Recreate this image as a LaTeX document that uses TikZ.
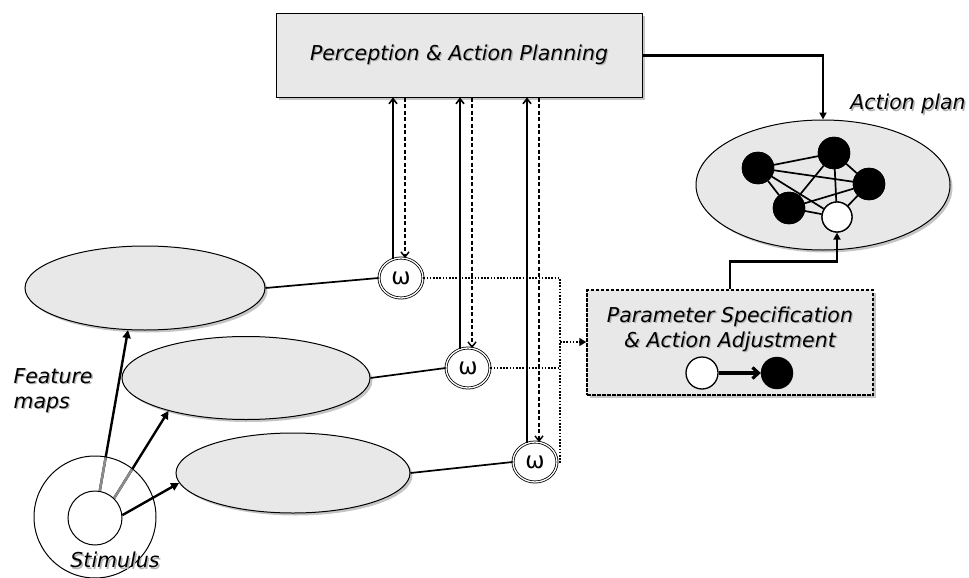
\documentclass[tikz,border=0pt]{standalone}
\usepackage{fontspec}
\setmainfont{DejaVu Sans}
\usetikzlibrary{shapes.geometric,shadows,arrows.meta,calc}
\definecolor{boxgray}{HTML}{E8E8E8}
\newcommand\shtx[1]{\makebox[0pt][l]{\hspace{1.4pt}\raisebox{-1.4pt}{\textcolor{black!30}{#1}}}#1}
\tikzset{
  shad/.style={drop shadow={shadow xshift=2.5pt,shadow yshift=-2.5pt,fill=black!45}},
  graybox/.style={draw=black, line width=1pt, fill=boxgray, shad},
  fmap/.style={ellipse, graybox, inner sep=0pt},
  omeganode/.style={ellipse, draw=black, double=white, double distance=1.3pt, line width=0.8pt,
    fill=white, minimum width=44, minimum height=40, inner sep=0pt,
    font=\fontsize{23}{23}\selectfont},
  lbl/.style={font=\itshape\fontsize{20.5}{25}\selectfont},
  blackdot/.style={circle, fill=black, draw=black, minimum size=32, inner sep=0pt},
  whitedot/.style={circle, fill=white, draw=black, line width=1.3pt, minimum size=30, inner sep=0pt},
  stimarr/.style={line width=2.4pt, -{Triangle[length=8pt,width=8pt]}},
  solidup/.style={line width=1.6pt, -{Straight Barb[length=5pt,width=8pt]}},
  dashdown/.style={line width=1.5pt, dashed, dash pattern=on 4pt off 2.5pt, -{Straight Barb[length=5pt,width=8pt]}},
  dotline/.style={line width=1.6pt, dash pattern=on 1.6pt off 1.6pt},
  planarr/.style={line width=2.5pt, -{Triangle[length=7pt,width=7pt]}},
  graphedge/.style={line width=1.7pt}
}
\begin{document}
\begin{tikzpicture}[x=1pt,y=-1pt]
\useasboundingbox (0,0) rectangle (969,578);

% top box
\node[graybox, rectangle, minimum width=366, minimum height=83, inner sep=0pt, lbl] (pap) at (459,55.5) {\shtx{Perception \& Action Planning}};

% action plan
\node[ellipse, graybox, minimum width=254, minimum height=130, inner sep=0pt] (ap) at (823,185) {};
\node[lbl] (apt) at (908,105) {\shtx{Action plan}};
\node[blackdot] (a1) at (758,168) {};
\node[blackdot] (a2) at (834,153) {};
\node[blackdot] (a3) at (869,184) {};
\node[blackdot] (a4) at (789,208) {};
\node[whitedot] (aw) at (837,217) {};
\foreach \u/\v in {a1/a2,a1/a4,a1/a3,a1/aw,a2/a4,a2/a3,a2/aw,a3/a4,a3/aw,a4/aw}
  \draw[graphedge] (\u) -- (\v);
\foreach \n in {a1,a2,a3,a4}
  \node[blackdot] at (\n) {};
\node[whitedot] at (aw) {};

% feature maps
\node[fmap, minimum width=240, minimum height=84] (f1) at (145,288) {};
\node[fmap, minimum width=248, minimum height=83] (f2) at (246,378) {};
\node[fmap, minimum width=234, minimum height=80] (f3) at (293,473) {};

% stimulus
\node[circle, draw=black, line width=1pt, fill=white, minimum size=122, inner sep=0pt] (so) at (95,517) {};
\node[circle, draw=black, line width=1pt, fill=white, minimum size=54, inner sep=0pt] (si) at (95,518) {};
\draw[stimarr] (si.80) -- (f1.248);
\draw[stimarr] (si.46) -- (f2.203);
\draw[stimarr] (si.6) -- (f3.185);
\begin{scope}
  \clip (so.center) circle (60.5);
  \draw[line width=2.4pt, black!45] (si.80) -- (f1.248);
  \draw[line width=2.4pt, black!45] (si.46) -- (f2.203);
\end{scope}

\node[lbl, anchor=west, align=left] (fmt) at (10,391) {\shtx{Feature}\\\shtx{maps}};
\node[lbl] (stt) at (115,561) {\shtx{Stimulus}};

% omega nodes
\node[omeganode] (w1) at (401,278) {ω};
\node[omeganode] (w2) at (468,368) {ω};
\node[omeganode] (w3) at (535,462) {ω};

\draw[line width=1.7pt] (f1.east) -- (w1.west);
\draw[line width=1.7pt] (f2.east) -- (w2.west);
\draw[line width=1.7pt] (f3.east) -- (w3.west);

% vertical connectors
\foreach \w in {w1,w2,w3}{
  \coordinate (\w s) at ($(\w.north)+(-8,1.5)$);
  \coordinate (\w d) at ($(\w.north)+(4,0.5)$);
  \draw[solidup] (\w s) -- (\w s |- pap.south);
  \draw[dashdown] (\w d |- pap.south) -- (\w d);
}

% parameter box
\node[graybox, rectangle, dash pattern=on 3.5pt off 1.5pt, line width=1.5pt, minimum width=286, minimum height=105, inner sep=0pt] (psa) at (730,342.5) {};
\node[lbl, align=center] (psat) at (730,330) {\shtx{Parameter Specification}\\\shtx{\& Action Adjustment}};
\node[circle, fill=white, draw=black, line width=1.3pt, minimum size=32, inner sep=0pt] (pw) at (702,373) {};
\node[blackdot] (pb) at (777,373) {};
\draw[line width=3.2pt, -{Straight Barb[length=6pt,width=11pt]}] (pw) -- (pb);

% dotted junction
\coordinate (jn) at (560,342);
\draw[dotline] (w1.east) -- (w1.east -| jn) -- (w3.east -| jn) -- (w3.east);
\draw[dotline] (w2.east) -- (w2.east -| jn);
\draw[dotline, -{Triangle[length=7pt,width=8pt]}] (jn) -- (jn -| psa.west);

% plan connectors
\draw[planarr] (psa.north) -- ++(0,-28) -| (aw.south);
\draw[planarr] (pap.east) -| (ap.north);
\end{tikzpicture}
\end{document}
